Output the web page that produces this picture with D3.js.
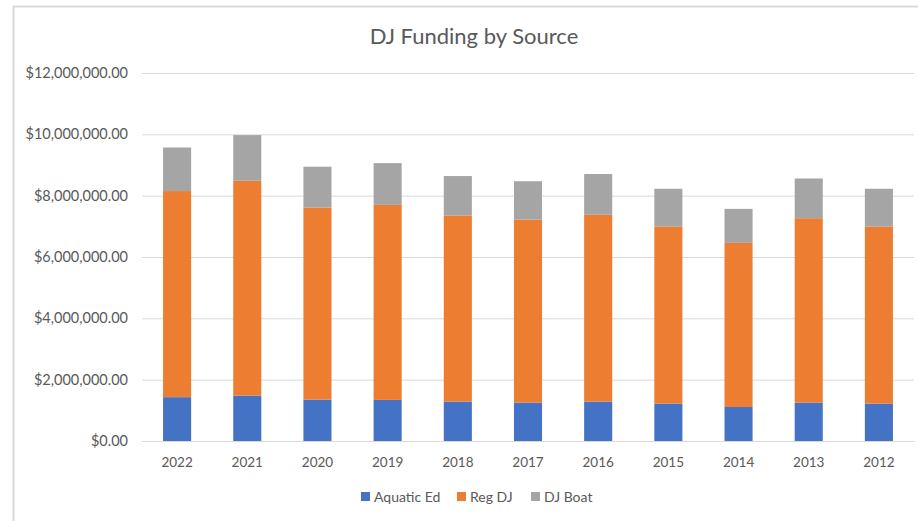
<!DOCTYPE html>
<html>
<head>
<meta charset="utf-8">
<script src="https://cdn.jsdelivr.net/npm/d3@7"></script>
<style>
  body { margin: 0; background: #fff; }
  svg { display: block; font-family: Lato, "Open Sans", sans-serif; }
</style>
</head>
<body>
<script>
// values, in dollars
const years = ['2022', '2021', '2020', '2019', '2018', '2017', '2016', '2015', '2014', '2013', '2012'];
const aquaticEd = [1430000, 1480000, 1350000, 1340000, 1285000, 1250000, 1285000, 1220000, 1110000, 1250000, 1220000];
const regDJ = [6720000, 7005000, 6265000, 6360000, 6070000, 5970000, 6090000, 5775000, 5350000, 6015000, 5775000];
const djBoat = [1420000, 1490000, 1330000, 1360000, 1285000, 1250000, 1330000, 1230000, 1110000, 1295000, 1230000];
const seriesNames = ['Aquatic Ed', 'Reg DJ', 'DJ Boat'];
const seriesColors = ['#4472C4', '#ED7D31', '#A5A5A5'];
const yTicks = [0, 2000000, 4000000, 6000000, 8000000, 10000000, 12000000];

const W = 918, H = 521;
const margin = {top: 73, right: 4, bottom: 80, left: 142};
const width = W - margin.left - margin.right;
const height = H - margin.top - margin.bottom;

const svg = d3.select('body').append('svg')
  .attr('width', W)
  .attr('height', H);

// chart border (only top and left visible in the crop)
svg.append('rect')
  .attr('x', 13.5).attr('y', 6.5)
  .attr('width', W).attr('height', H)
  .attr('fill', 'none').attr('stroke', '#d9d9d9').attr('stroke-width', 2);

svg.append('text')
  .attr('x', 474).attr('y', 44)
  .attr('text-anchor', 'middle')
  .attr('font-size', 22)
  .attr('fill', '#595959')
  .text('DJ Funding by Source');

const g = svg.append('g')
  .attr('transform', `translate(${margin.left},${margin.top})`);

// build table for the stack
const table = years.map((y, i) => ({year: y, 'Aquatic Ed': aquaticEd[i], 'Reg DJ': regDJ[i], 'DJ Boat': djBoat[i]}));
const stacked = d3.stack().keys(seriesNames)(table);

const xScale = d3.scaleBand()
  .domain(years)
  .range([0, width])
  .paddingInner(0.6)
  .paddingOuter(0.3);

const yScale = d3.scaleLinear()
  .domain([0, 12000000])
  .range([height, 0]);

const fmt = d => '$' + d3.format(',.2f')(d);

// gridlines + y labels
const yAxis = d3.axisLeft(yScale)
  .tickValues(yTicks)
  .tickSize(-width)
  .tickPadding(14)
  .tickFormat(fmt);

g.append('g')
  .attr('class', 'y-as')
  .call(yAxis)
  .call(a => a.select('.domain').remove())
  .call(a => a.selectAll('line').attr('stroke', '#d9d9d9').attr('stroke-width', 1))
  .call(a => a.selectAll('text').attr('fill', '#595959').attr('font-size', 14.5).attr('font-family', 'Lato, sans-serif'));

// bars
g.selectAll('g.series')
  .data(stacked)
  .join('g')
  .attr('class', 'series')
  .attr('fill', (d, i) => seriesColors[i])
  .selectAll('rect')
  .data(d => d)
  .join('rect')
  .attr('x', d => xScale(d.data.year))
  .attr('y', d => yScale(d[1]))
  .attr('width', xScale.bandwidth())
  .attr('height', d => yScale(d[0]) - yScale(d[1]));

// x labels
const xAxis = d3.axisBottom(xScale).tickSize(0).tickPadding(16);
g.append('g')
  .attr('class', 'x-as')
  .attr('transform', `translate(0,${height})`)
  .call(xAxis)
  .call(a => a.select('.domain').attr('stroke', '#d9d9d9'))
  .call(a => a.selectAll('text').attr('fill', '#595959').attr('font-size', 13.5).attr('font-family', 'Lato, sans-serif'));

// legend
const legendX = [361, 457, 531];
const legend = svg.append('g').attr('class', 'legend');
seriesNames.forEach((name, i) => {
  legend.append('rect')
    .attr('x', legendX[i]).attr('y', 492)
    .attr('width', 9).attr('height', 9)
    .attr('fill', seriesColors[i]);
  legend.append('text')
    .attr('x', legendX[i] + 13).attr('y', 501.5)
    .attr('font-size', 14)
    .attr('fill', '#595959')
    .text(name);
});
</script>
</body>
</html>
